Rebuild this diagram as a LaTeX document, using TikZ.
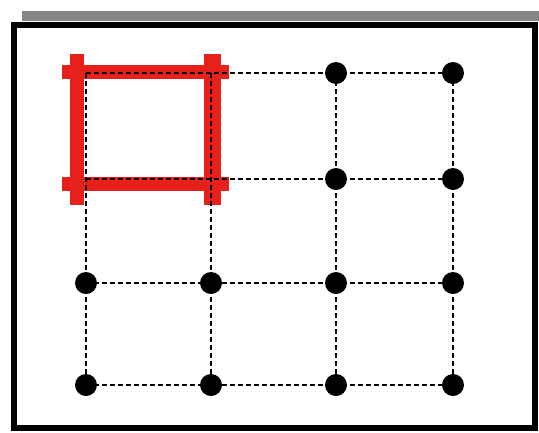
\documentclass[tikz,border=0pt]{standalone}
\begin{document}
\begin{tikzpicture}[x=1pt,y=-1pt,
  dot/.style={circle,fill=black,inner sep=0pt,minimum size=22pt},
  gridline/.style={draw=black,line width=2pt,dash pattern=on 5pt off 3pt},
  redbar/.style={draw={rgb,255:red,232;green,32;blue,28},line width=14pt},
  frameline/.style={draw=black,line width=6pt}]
\useasboundingbox (0,0) rectangle (539,432);
% gray bar at top
\fill[gray!95] (22,11) rectangle (539,21);
% frame
\draw[frameline] (13.5,25) rectangle (534.5,428);
% grid coordinates
\foreach \c/\x in {1/86,2/211,3/336,4/453}{
  \foreach \r/\y in {1/73,2/179,3/283,4/385}{
    \coordinate (p\r\c) at (\x,\y);
  }
}
% red square
\draw[redbar] (77,54) -- (77,205);
\draw[redbar,line width=17pt] (212,54) -- (212,205);
\draw[redbar] (62,72) -- (229,72);
\draw[redbar] (62,184) -- (229,184);
% dashed grid
\foreach \r in {1,2,3,4}{
  \draw[gridline] (p\r1) -- (p\r2) -- (p\r3) -- (p\r4);
}
\foreach \c in {1,2,3,4}{
  \draw[gridline] (p1\c) -- (p2\c) -- (p3\c) -- (p4\c);
}
% dots
\node[dot] (d13) at (p13) {};
\node[dot] (d14) at (p14) {};
\node[dot] (d23) at (p23) {};
\node[dot] (d24) at (p24) {};
\foreach \c in {1,2,3,4}{
  \node[dot] (d3\c) at (p3\c) {};
  \node[dot] (d4\c) at (p4\c) {};
}
\end{tikzpicture}
\end{document}
